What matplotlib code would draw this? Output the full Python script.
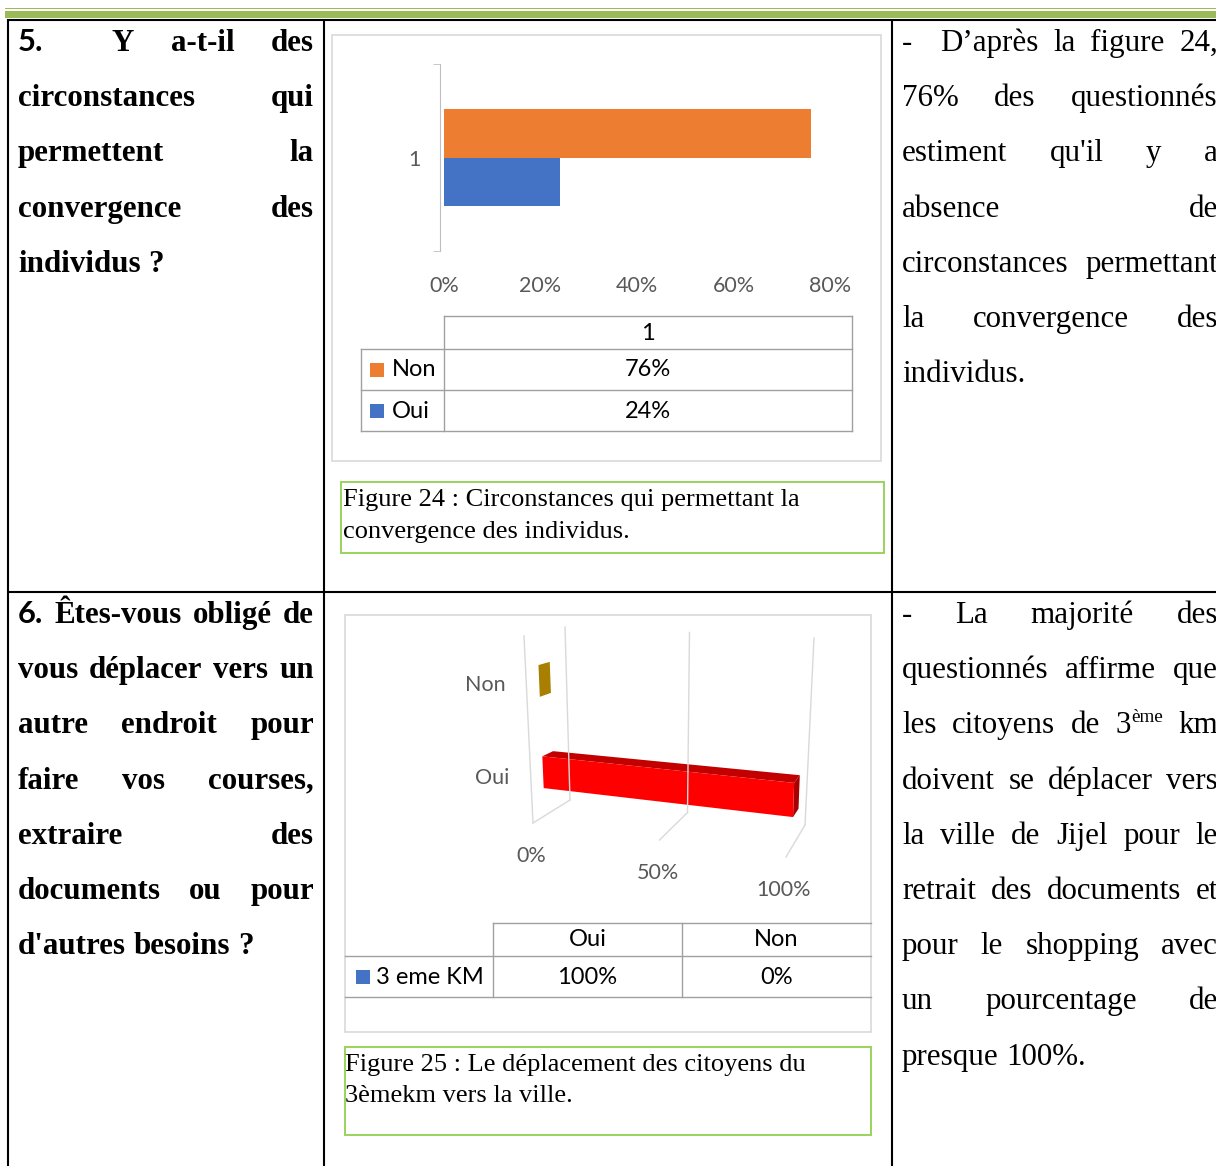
import numpy as np
import matplotlib
matplotlib.use('Agg')
import matplotlib.pyplot as plt
from matplotlib.patches import Rectangle, Polygon
from matplotlib.font_manager import FontProperties
from matplotlib.colors import to_rgb

W, H = 1216, 1166

# figure 24 data
fig24_series = ['Non', 'Oui']
fig24_values = [0.76, 0.24]
fig24_colors = ['#ED7D31', '#4472C4']
fig24_category = '1'
fig24_ticks = [0, 0.2, 0.4, 0.6, 0.8]

# figure 25 data
fig25_categories = ['Oui', 'Non']
fig25_values = [1.0, 0.0]
fig25_point_colors = ['#FF0000', '#FFC000']
fig25_series = '3 eme KM'
fig25_series_color = '#4472C4'
fig25_ticks = [0, 0.5, 1.0]

caption24 = ['Figure 24 : Circonstances qui permettant la', 'convergence des individus.']
caption25 = ['Figure 25 : Le déplacement des citoyens du', '3èmekm vers la ville.']

question5 = [['5.', 'Y', 'a-t-il', 'des'], ['circonstances', 'qui'], ['permettent', 'la'],
             ['convergence', 'des'], ['individus', '?']]
question6 = [['6.', 'Êtes-vous', 'obligé', 'de'], ['vous', 'déplacer', 'vers', 'un'],
             ['autre', 'endroit', 'pour'], ['faire', 'vos', 'courses,'], ['extraire', 'des'],
             ['documents', 'ou', 'pour'], ["d'autres", 'besoins', '?']]
answer5 = [['D’après', 'la', 'figure', '24,'], ['76%', 'des', 'questionnés'],
           ['estiment', "qu'il", 'y', 'a'], ['absence', 'de'], ['circonstances', 'permettant'],
           ['la', 'convergence', 'des'], ['individus.']]
answer6 = [['-', 'La', 'majorité', 'des'], ['questionnés', 'affirme', 'que'],
           ['les', 'citoyens', 'de', '3^ème', 'km'], ['doivent', 'se', 'déplacer', 'vers'],
           ['la', 'ville', 'de', 'Jijel', 'pour', 'le'], ['retrait', 'des', 'documents', 'et'],
           ['pour', 'le', 'shopping', 'avec'], ['un', 'pourcentage', 'de'], ['presque', '100%.']]

BODY = 22.3
serif = FontProperties(family='Liberation Serif', size=BODY)
serif_b = FontProperties(family='Liberation Serif', weight='bold', size=BODY)
sans_b = FontProperties(family='Lato', weight='bold', size=BODY)
serif_sup = FontProperties(family='Liberation Serif', size=BODY * 0.62)
cap_fp = FontProperties(family='Liberation Serif', size=19)
tick_fp = FontProperties(family='Lato', size=15.5)
table_fp = FontProperties(family='Lato', size=17)

fig = plt.figure(figsize=(W / 100, H / 100), dpi=100)
page = fig.add_axes([0, 0, 1, 1])
page.set_xlim(0, W)
page.set_ylim(H, 0)
page.axis('off')
renderer = fig.canvas.get_renderer()


def px_rect(x0, y0, x1, y1):
    return [x0 / W, 1 - y1 / H, (x1 - x0) / W, (y1 - y0) / H]


def measure(s, fp):
    t = page.text(0, 0, s, fontproperties=fp)
    w = t.get_window_extent(renderer).width
    t.remove()
    return w


def word_runs(word, fp):
    if '^' in word:
        a, b = word.split('^')
        return [(a, fp, 0), (b, serif_sup, -11)]
    return [(word, fp, 0)]


def draw_line(words, x0, x1, y, fp, justify=True, first_fp=None):
    runs = []
    for i, w in enumerate(words):
        f = first_fp if (i == 0 and first_fp is not None) else fp
        runs.append(word_runs(w, f))
    widths = [sum(measure(t, f) for t, f, _ in r) for r in runs]
    if justify and len(words) > 1:
        gap = (x1 - x0 - sum(widths)) / (len(words) - 1)
    else:
        gap = measure('a a', fp) - measure('aa', fp)
    x = x0
    for r, wd in zip(runs, widths):
        for t, f, dy in r:
            page.text(x, y + dy, t, fontproperties=f, va='baseline', ha='left', color='black')
            x += measure(t, f)
        x += gap


def paragraph(lines, x0, x1, y0, fp, first_fp=None, step=55.2):
    for i, words in enumerate(lines):
        last = i == len(lines) - 1
        draw_line(words, x0, x1, y0 + i * step, fp, justify=not last,
                  first_fp=first_fp if i == 0 else None)


# header rule
page.add_patch(Rectangle((5, 7.5), W, 1.5, color='#9BBB59', lw=0))
page.add_patch(Rectangle((5, 11), W, 6.5, color='#9BBB59', lw=0))

# table grid
for x in [8, 324, 892]:
    page.plot([x, x], [19, H], color='black', lw=1.5, solid_capstyle='butt')
for y in [20, 592]:
    page.plot([7, W], [y, y], color='black', lw=1.5, solid_capstyle='butt')

# text columns (numbered first line uses a tab after the number)
page.text(18, 51, question5[0][0], fontproperties=sans_b, va='baseline')
draw_line(question5[0][1:], 112, 314, 51, serif_b)
paragraph(question5[1:], 18, 314, 51 + 55.2, serif_b)
paragraph(question6, 18, 314, 623, serif_b, first_fp=sans_b)
page.text(902, 51, '-', fontproperties=serif, va='baseline')
draw_line(answer5[0], 940, 1218, 51, serif)
paragraph(answer5[1:], 902, 1218, 51 + 55.2, serif)
paragraph(answer6, 902, 1218, 623, serif)

# ---- figure 24 ----
page.add_patch(Rectangle((332, 35), 549, 426, fill=False, ec='#D9D9D9', lw=1.2))
ax1 = fig.add_axes(px_rect(444, 64, 830, 251))
bh = 0.262
n = len(fig24_series)
for i, (name, val, col) in enumerate(zip(fig24_series, fig24_values, fig24_colors)):
    off = bh * ((n - 1) / 2 - i)
    ax1.barh(off, val, height=bh, color=col)
ax1.set_xlim(0, fig24_ticks[-1])
ax1.set_ylim(-0.5, 0.5)
for s in ['top', 'right', 'bottom']:
    ax1.spines[s].set_visible(False)
ax1.spines['left'].set_color('#BFBFBF')
ax1.spines['left'].set_position(('outward', 3))
ax1.set_yticks([0])
ax1.set_yticklabels([fig24_category], fontproperties=tick_fp, color='#595959')
ax1.set_yticks([-0.5, 0.5], minor=True)
ax1.tick_params(axis='y', which='major', length=0, pad=14)
ax1.tick_params(axis='y', which='minor', length=5, color='#BFBFBF')
ax1.set_xticks(fig24_ticks)
ax1.set_xticklabels([f'{int(round(t * 100))}%' for t in fig24_ticks], fontproperties=tick_fp, color='#595959')
ax1.tick_params(axis='x', length=0, pad=18)

tc = '#A0A0A0'
page.plot([444, 852], [316, 316], color=tc, lw=1)
for y in [349, 390, 431]:
    page.plot([361, 852], [y, y], color=tc, lw=1)
page.plot([361, 361], [349, 431], color=tc, lw=1)
page.plot([444, 444], [316, 431], color=tc, lw=1)
page.plot([852, 852], [316, 431], color=tc, lw=1)
page.text(648, 333, fig24_category, fontproperties=table_fp, ha='center', va='center')
for i, (name, val, col) in enumerate(zip(fig24_series, fig24_values, fig24_colors)):
    yc = 370 + 41 * i
    page.add_patch(Rectangle((370, yc - 7), 14, 14, color=col, lw=0))
    page.text(392, yc, name, fontproperties=table_fp, ha='left', va='center')
    page.text(648, yc, f'{int(round(val * 100))}%', fontproperties=table_fp, ha='center', va='center')

page.add_patch(Rectangle((341, 482), 543, 71, fill=False, ec='#92D050', lw=1.3))
for i, line in enumerate(caption24):
    page.text(343, 506 + 32 * i, line, fontproperties=cap_fp, va='baseline')

# ---- figure 25 (3-D style bars) ----
page.add_patch(Rectangle((345, 615), 526, 417, fill=False, ec='#D9D9D9', lw=1.2))
ax2 = fig.add_axes(px_rect(345, 615, 871, 1032))
ax2.set_xlim(345, 871)
ax2.set_ylim(1032, 615)
ax2.axis('off')
ax2.patch.set_alpha(0)


def proj(v, c, z):
    # v: value (0..1), c: category axis (0..1), z: depth (0..1)
    x = 533 + 253 * v + 37 * z - 18 * v * z + c * (-9 + 4 * z + 14 * v)
    y = 823 + 34 * v - 23 * z - 9 * v * z - c * (187 - 14 * z + 14 * v)
    return x, y


def seg(p, q, **kw):
    ax2.plot([p[0], q[0]], [p[1], q[1]], **kw)


gc = '#D9D9D9'
seg(proj(0, 0, 0), proj(0, 1, 0), color=gc, lw=1)
for v in fig25_ticks:
    seg(proj(v, 0, 1), proj(v, 1, 1), color=gc, lw=1)
    seg(proj(v, 0, 0), proj(v, 0, 1), color=gc, lw=1)
    x, y = proj(v, 0, 0)
    ax2.text(x - 2, y + 33, f'{int(round(v * 100))}%', fontproperties=tick_fp,
             color='#595959', ha='center', va='center')


def shade(col, f):
    r, g, b = to_rgb(col)
    return (r * f, g * f, b * f)


nc = len(fig25_categories)
hc, z0, z1 = 0.087, 0.32, 0.6
for i, (cat, val, col) in enumerate(zip(fig25_categories, fig25_values, fig25_point_colors)):
    cm = (i + 0.5) / nc - 0.012
    c0, c1 = cm - hc, cm + hc
    top = [proj(0, c1, z0), proj(val, c1, z0), proj(val, c1, z1), proj(0, c1, z1)]
    end = [proj(val, c0, z0), proj(val, c0, z1), proj(val, c1, z1), proj(val, c1, z0)]
    front = [proj(0, c0, z0), proj(val, c0, z0), proj(val, c1, z0), proj(0, c1, z0)]
    ax2.add_patch(Polygon(top, closed=True, color=shade(col, 0.76), lw=0))
    ax2.add_patch(Polygon(end, closed=True, color=shade(col, 0.66), lw=0))
    if val > 0:
        ax2.add_patch(Polygon(front, closed=True, color=col, lw=0))
    x, y = proj(0, cm, 0)
    ax2.text(x - 21, y, cat, fontproperties=tick_fp, color='#595959', ha='right', va='center')

cols = [493, 682, 871]
page.plot([493, 871], [923, 923], color=tc, lw=1)
page.plot([345, 871], [956, 956], color=tc, lw=1)
page.plot([345, 871], [997, 997], color=tc, lw=1)
for x in cols[:-1]:
    page.plot([x, x], [923, 997], color=tc, lw=1)
for i, (cat, val) in enumerate(zip(fig25_categories, fig25_values)):
    xc = (cols[i] + cols[i + 1]) / 2
    page.text(xc, 940, cat, fontproperties=table_fp, ha='center', va='center')
    page.text(xc, 978, f'{int(round(val * 100))}%', fontproperties=table_fp, ha='center', va='center')
page.add_patch(Rectangle((356, 970), 14, 14, color=fig25_series_color, lw=0))
page.text(376, 977, fig25_series, fontproperties=table_fp, ha='left', va='center')

page.add_patch(Rectangle((345, 1047), 526, 88, fill=False, ec='#92D050', lw=1.3))
for i, line in enumerate(caption25):
    page.text(345, 1071 + 31 * i, line, fontproperties=cap_fp, va='baseline')

fig.savefig('out.png', dpi=100)
